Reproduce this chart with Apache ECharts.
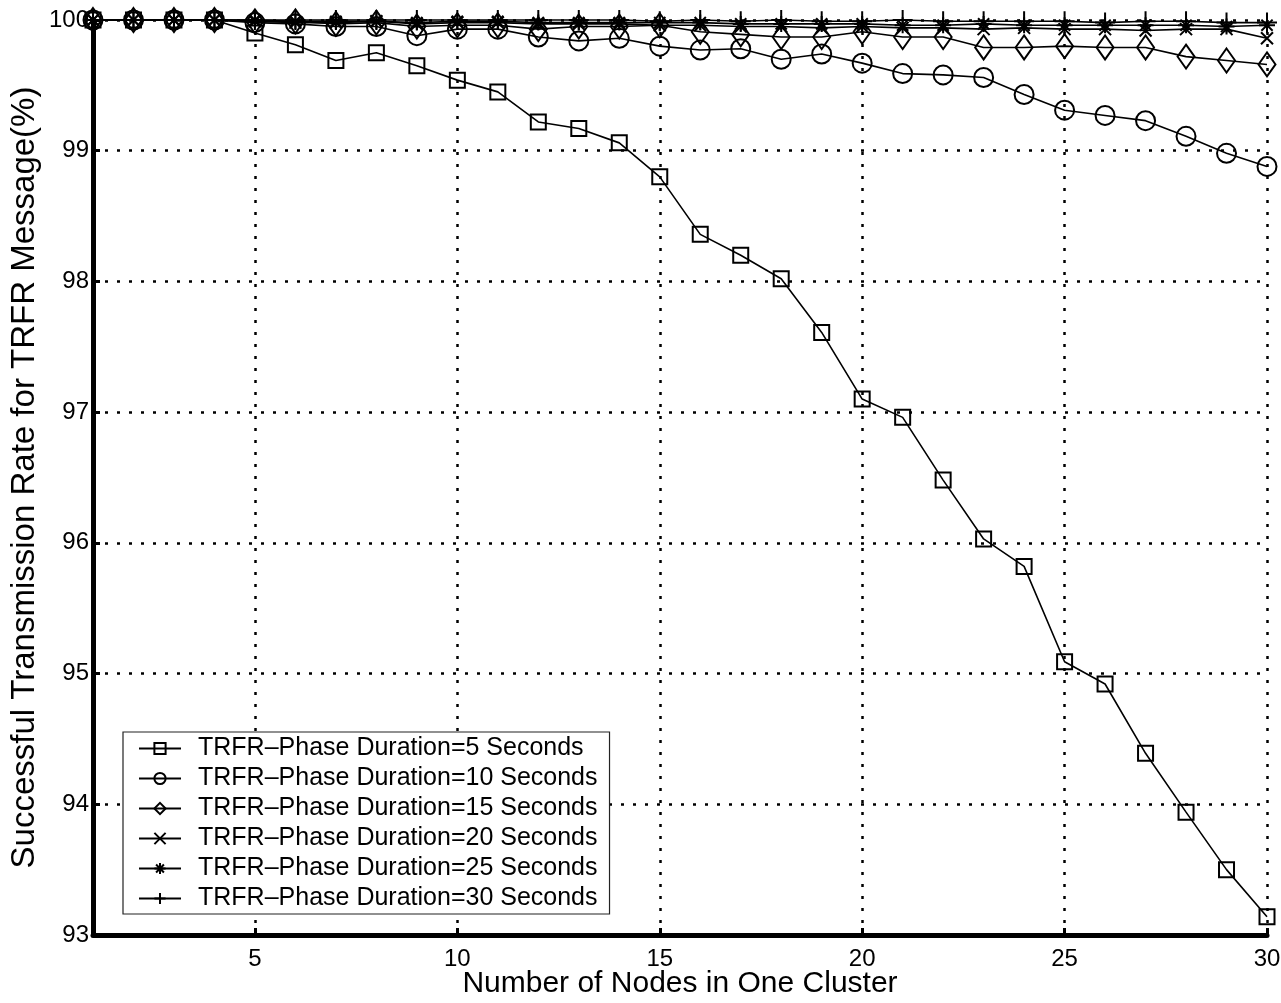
<!DOCTYPE html>
<html>
<head>
<meta charset="utf-8">
<script src="https://cdn.jsdelivr.net/npm/echarts@6/dist/echarts.min.js"></script>
<style>
html,body{margin:0;padding:0;background:#fff;}
#chart{width:1281px;height:1003px;}
</style>
</head>
<body>
<div id="chart"></div>
<script>
const nodes = [1,2,3,4,5,6,7,8,9,10,11,12,13,14,15,16,17,18,19,20,21,22,23,24,25,26,27,28,29,30];
const xTicks = [5,10,15,20,25,30];
const seriesNames = [
  'TRFR\u2013Phase Duration=5 Seconds',
  'TRFR\u2013Phase Duration=10 Seconds',
  'TRFR\u2013Phase Duration=15 Seconds',
  'TRFR\u2013Phase Duration=20 Seconds',
  'TRFR\u2013Phase Duration=25 Seconds',
  'TRFR\u2013Phase Duration=30 Seconds'
];
const rate5 = [100,100,100,100,99.90,99.81,99.69,99.75,99.65,99.54,99.45,99.22,99.17,99.06,98.80,98.36,98.20,98.02,97.61,97.10,96.96,96.48,96.03,95.82,95.09,94.92,94.39,93.94,93.50,93.14];
const rate10 = [100,100,100,100,99.98,99.97,99.95,99.95,99.88,99.93,99.93,99.87,99.84,99.86,99.80,99.77,99.78,99.70,99.74,99.67,99.59,99.58,99.56,99.43,99.31,99.27,99.23,99.11,98.98,98.88];
const rate15 = [100,100,100,100,99.99,99.99,99.97,99.98,99.95,99.96,99.96,99.93,99.95,99.95,99.96,99.91,99.89,99.87,99.87,99.91,99.87,99.87,99.79,99.79,99.80,99.79,99.79,99.72,99.69,99.66];
const rate20 = [100,100,100,100,99.99,99.98,99.98,99.99,99.97,99.98,99.98,99.97,99.97,99.97,99.96,99.96,99.95,99.95,99.94,99.95,99.94,99.94,99.93,99.94,99.93,99.93,99.92,99.93,99.93,99.86];
const rate25 = [100,100,100,100,100,99.99,99.99,99.99,99.98,99.99,99.99,99.98,99.98,99.98,99.98,99.98,99.97,99.97,99.97,99.97,99.96,99.96,99.97,99.96,99.96,99.96,99.96,99.96,99.95,99.96];
const rate30 = [100,100,100,100,100,100,100,100,100,100,100,100,100,100,99.99,100,99.99,100,99.99,99.99,100,99.99,99.99,99.99,99.99,99.98,99.99,99.99,99.98,99.98];
const allRates = [rate5, rate10, rate15, rate20, rate25, rate30];
const yMin = 93, yMax = 100;

const symbols = [
  {symbol:'rect', size:15},
  {symbol:'circle', size:19},
  {symbol:'diamond', size:[17,24]},
  {symbol:'path://M0,0L10,10M10,0L0,10', size:12},
  {symbol:'path://M5,0L5,10M0,5L10,5M1.5,1.5L8.5,8.5M8.5,1.5L1.5,8.5', size:16},
  {symbol:'path://M5,0L5,10M0,5L10,5', size:20}
];

const FONT = '"Liberation Sans", Arial, Helvetica, sans-serif';

const chart = echarts.init(document.getElementById('chart'), null, {renderer:'canvas'});
const series = allRates.map((arr, i) => ({
  name: seriesNames[i],
  type: 'line',
  data: nodes.map((n, k) => [n, arr[k]]),
  symbol: symbols[i].symbol,
  symbolSize: symbols[i].size,
  showAllSymbol: true,
  color: '#000',
  lineStyle: {color:'#000', width:1.6},
  itemStyle: {color:'rgba(255,255,255,0)', borderColor:'#000', borderWidth:2},
  emphasis: {disabled:true},
  animation: false,
  clip: false,
  z: 3 + i
}));

chart.setOption({
  animation: false,
  backgroundColor: '#fff',
  grid: {left:93, right:14, top:20, bottom:68, containLabel:false, outerBoundsMode:'none'},
  legend: {
    orient: 'vertical',
    left: 123,
    top: 732,
    padding: [4, 12, 3, 15],
    itemGap: 5,
    itemWidth: 42,
    itemHeight: 14,
    backgroundColor: '#fff',
    borderColor: '#222',
    borderWidth: 1.2,
    textStyle: {fontFamily: FONT, fontSize: 25, color:'#000', lineHeight:25, padding:[0,0,0,12]},
    data: seriesNames
  },
  xAxis: {
    type: 'value',
    min: 1, max: 30,
    name: 'Number of Nodes in One Cluster',
    nameLocation: 'middle',
    nameGap: 34,
    nameMoveOverlap: false,
    nameTextStyle: {fontFamily: FONT, fontSize: 30, color:'#000'},
    axisLine: {show:true, onZero:false, lineStyle:{color:'#000', width:5}},
    axisTick: {show:true, inside:true, length:7, lineStyle:{color:'#000', width:3}, customValues: xTicks},
    axisLabel: {fontFamily: FONT, fontSize: 24, color:'#000', margin:12, customValues: xTicks},
    splitLine: {show:true, lineStyle:{color:'#000', width:2.5, type:[3,9]}, customValues: xTicks}
  },
  yAxis: {
    type: 'value',
    min: yMin, max: yMax, interval: 1,
    name: 'Successful Transmission Rate for TRFR Message(%)',
    nameLocation: 'middle',
    nameGap: 52,
    nameMoveOverlap: false,
    nameTextStyle: {fontFamily: FONT, fontSize: 33, color:'#000'},
    axisLine: {show:true, onZero:false, lineStyle:{color:'#000', width:5}},
    axisTick: {show:true, inside:true, length:7, lineStyle:{color:'#000', width:3}},
    axisLabel: {fontFamily: FONT, fontSize: 24, color:'#000', margin:4},
    splitLine: {show:true, lineStyle:{color:'#000', width:2.5, type:[3,9]}}
  },
  series: series
});
</script>
</body>
</html>
